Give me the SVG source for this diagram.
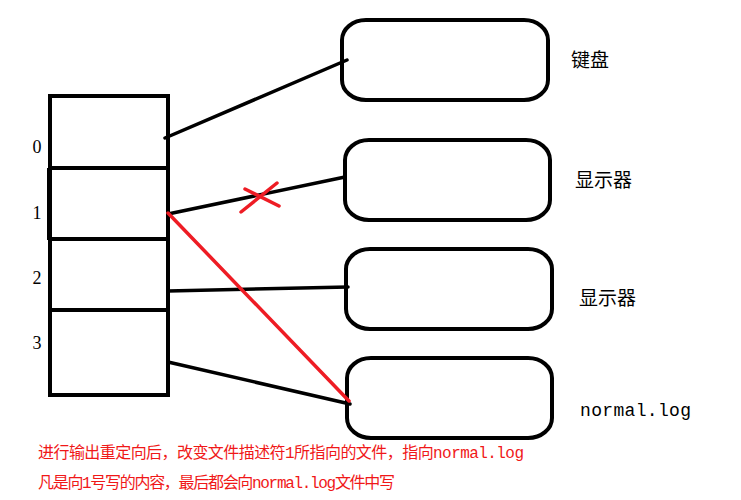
<svg xmlns="http://www.w3.org/2000/svg" width="741" height="500" viewBox="0 0 741 500">
<style>
.cell{fill:none;stroke:#000;stroke-width:4}
.box{fill:none;stroke:#000;stroke-width:4}
.num{font-family:"Liberation Serif",serif;font-size:18px;fill:#000}
.lbl{font-family:"Noto Sans CJK SC",sans-serif;font-size:19px;fill:#000}
.mono{font-family:"Liberation Mono","Noto Sans CJK SC",monospace;font-size:18px;fill:#000}
.note{font-family:"Liberation Mono","Noto Sans CJK SC",monospace;font-size:16px;fill:#f01818}
.blk{stroke:#000;stroke-width:3.5;fill:none;stroke-linecap:round}
.red{stroke:#ee1c24;stroke-width:3.5;fill:none;stroke-linecap:round}
</style>
<rect width="741" height="500" fill="#fff"/>
<g id="fdtable">
  <rect class="cell" x="50" y="96" width="118" height="299"/>
  <line class="cell" x1="48" y1="168" x2="168" y2="168"/>
  <line class="cell" x1="48" y1="239" x2="168" y2="239"/>
  <line class="cell" x1="50" y1="310" x2="168" y2="310"/>
  <line class="cell" x1="49" y1="168" x2="49" y2="240"/>
  <text class="num" x="37" y="153" text-anchor="middle">0</text>
  <text class="num" x="37" y="219" text-anchor="middle">1</text>
  <text class="num" x="37" y="284" text-anchor="middle">2</text>
  <text class="num" x="37" y="349" text-anchor="middle">3</text>
</g>
<g id="keyboard">
  <rect class="box" x="342" y="20" width="206" height="80" rx="24" ry="20"/>
  <text class="lbl" x="571" y="67">键盘</text>
</g>
<g id="monitor1">
  <rect class="box" x="345" y="140" width="205" height="80" rx="24" ry="20"/>
  <text class="lbl" x="575" y="187">显示器</text>
</g>
<g id="monitor2">
  <rect class="box" x="346" y="249" width="206" height="80" rx="24" ry="20"/>
  <text class="lbl" x="579" y="305">显示器</text>
</g>
<g id="normallog">
  <rect class="box" x="347" y="358" width="205" height="80" rx="24" ry="20"/>
  <text class="mono" x="580" y="416" textLength="111">normal.log</text>
</g>
<g id="connectors">
  <line class="blk" x1="165" y1="138" x2="347" y2="60"/>
  <line class="blk" x1="168" y1="214" x2="345" y2="177"/>
  <line class="blk" x1="168" y1="291" x2="348" y2="287"/>
  <line class="blk" x1="168" y1="362" x2="350" y2="404"/>
  <line class="red" x1="168" y1="213" x2="349" y2="401"/>
  <line class="red" x1="241" y1="212" x2="277" y2="183"/>
  <line class="red" x1="245" y1="189" x2="279" y2="206"/>
</g>
<g id="note">
  <text class="note" x="38" y="458" textLength="486" lengthAdjust="spacing">进行输出重定向后，改变文件描述符1所指向的文件，指向normal.log</text>
  <text class="note" x="38" y="488" textLength="357" lengthAdjust="spacing">凡是向1号写的内容，最后都会向normal.log文件中写</text>
</g>
</svg>
